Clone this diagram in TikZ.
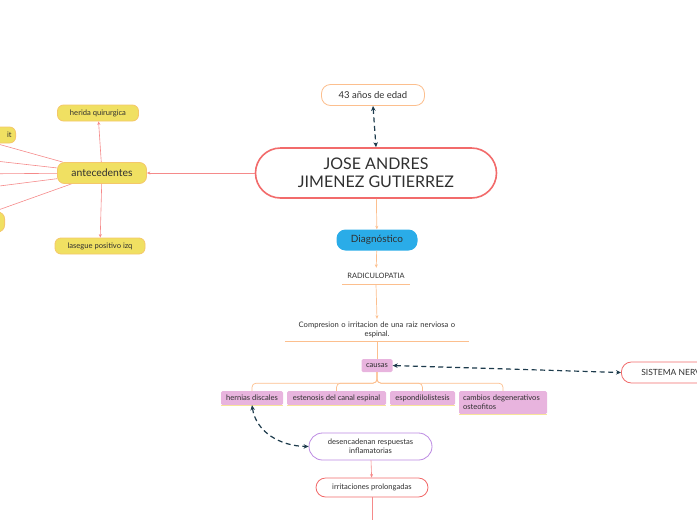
\documentclass[tikz,border=0pt]{standalone}
\usepackage{fontspec}
\setmainfont{Lato}
\usepackage{xcolor}
\usetikzlibrary{arrows.meta,backgrounds}
\definecolor{mapred}{HTML}{F26B6B}
\definecolor{linered}{HTML}{F58A8A}
\definecolor{peach}{HTML}{FCBF8E}
\definecolor{mapyellow}{HTML}{F0E062}
\definecolor{yellowline}{HTML}{F5C76A}
\definecolor{mapblue}{HTML}{2AACE8}
\definecolor{mappink}{HTML}{E8B4DE}
\definecolor{pinkline}{HTML}{F7E49A}
\definecolor{mappurple}{HTML}{BB88E2}
\definecolor{navy}{HTML}{1D3B4C}
\definecolor{textgray}{HTML}{303030}

\begin{document}
\begin{tikzpicture}[x=1pt,y=-1pt,
  every node/.style={text=textgray, inner sep=0pt},
  small/.style={font=\fontsize{7.6}{9}\selectfont},
  mainbox/.style={draw=mapred, line width=1.6pt, fill=white, rounded corners=25pt,
    align=center, font=\fontsize{16}{18.5}\selectfont},
  yellowbox/.style={draw=yellowline, fill=mapyellow, line width=0.8pt, rounded corners=7pt},
  pinkbox/.style={fill=mappink, rounded corners=1.5pt, small},
  outlinebox/.style={fill=white, line width=0.8pt, align=center},
  redline/.style={draw=linered, line width=0.6pt},
  redarrow/.style={redline, -{Stealth[length=3.5pt,width=3pt]}},
  orangeline/.style={draw=peach, line width=0.7pt},
  orangearrow/.style={orangeline, -{Stealth[length=3.5pt,width=3pt]}},
  navydash/.style={draw=navy, line width=1.2pt, dash pattern=on 5pt off 3.5pt,
    {Stealth[length=5pt,width=4.5pt]}-{Stealth[length=5pt,width=4.5pt]}}]
  \useasboundingbox (0,0) rectangle (697,520);
  \clip (0,0) rectangle (697,520);

  % central topic
  \node[mainbox, minimum width=241, minimum height=50] (jose) at (376,173) {JOSE ANDRES\\JIMENEZ GUTIERREZ};
  \node[outlinebox, draw=peach, rounded corners=9pt, minimum width=103, minimum height=21,
    font=\fontsize{9.5}{11}\selectfont] (edad) at (373,95) {43 años de edad};
  \draw[navydash] (edad.south) -- (jose.north);

  % antecedentes
  \node[yellowbox, minimum width=89, minimum height=21, font=\fontsize{10.4}{12}\selectfont] (ante) at (102,173) {antecedentes};
  \node[yellowbox, rounded corners=6pt, minimum width=81, minimum height=16, small] (herida) at (98,113) {herida quirurgica};
  \node[yellowbox, rounded corners=6pt, minimum width=90, minimum height=16, small] (lasegue) at (100,246) {lasegue positivo izq};
  \node[yellowbox, rounded corners=6pt, minimum height=16, text width=92, inner xsep=4pt,
    align=right, anchor=east, small] (trabajo) at (16,135) {it};
  \node[yellowbox, minimum width=80, minimum height=20, anchor=east] (otro) at (5,222) {};
  \coordinate (ant1) at (-40,157);
  \coordinate (ant2) at (-40,174);
  \coordinate (ant3) at (-40,191);
  \begin{pgfonlayer}{background}
    \foreach \t in {trabajo,ant1,ant2,ant3,otro}
      \draw[redline] (ante) -- (\t);
  \end{pgfonlayer}
  \draw[redarrow] (jose.west) -- (ante.east);
  \draw[redarrow] (ante) -- (herida);
  \draw[redarrow] (ante) -- (lasegue);

  % diagnostico
  \node[fill=mapblue, rounded corners=9pt, minimum width=81, minimum height=21,
    font=\fontsize{10}{12}\selectfont] (diag) at (377,240) {Diagnóstico};
  \node[minimum width=67, minimum height=16, font=\fontsize{7.4}{8.5}\selectfont] (radic) at (376,276) {RADICULOPATIA};
  \draw[orangeline] (radic.south west) -- (radic.south east);
  \node[text width=184, minimum height=22, align=center, small] (comp) at (377,330)
    {Compresion o irritacion de una raiz nerviosa o\\espinal.};
  \draw[orangeline] (comp.south west) -- (comp.south east);
  \draw[orangearrow] (jose) -- (diag);
  \draw[orangearrow] (diag) -- (radic);
  \draw[orangearrow] (radic.south) -- (comp.north);

  % causas
  \node[pinkbox, minimum width=31, minimum height=13] (causas) at (377,365.5) {causas};
  \draw[orangeline] (comp.south) -- (causas.north);
  \node[pinkbox, minimum width=62, minimum height=14] (hern) at (252,398) {hernias discales};
  \node[pinkbox, minimum width=99, minimum height=14] (esten) at (336.5,398) {estenosis del canal espinal};
  \node[pinkbox, minimum width=65, minimum height=14] (espon) at (422.5,398) {espondilolistesis};
  \node[pinkbox, minimum height=23, text width=80, inner xsep=4pt, align=left] (camb) at (503,402.5)
    {cambios degenerativos\\osteofitos};
  \foreach \n in {hern,esten,espon,camb} {
    \draw[draw=pinkline, line width=0.7pt] (\n.south west) -- (\n.south east);
    \draw[orangeline, rounded corners=4pt] (causas.south) -- ++(0,11) -| (\n.north);
  }
  \node[outlinebox, draw=mapred, rounded corners=10pt, minimum width=120, minimum height=21,
    anchor=west, font=\fontsize{8.5}{10}\selectfont] (sist) at (621,372.5) {SISTEMA NERVIOSO};
  \draw[navydash] (causas.east) -- (sist.west);

  % consecuencias
  \node[outlinebox, draw=mappurple, rounded corners=13.5pt, minimum width=123, minimum height=27, small]
    (desc) at (370.5,446.5) {desencadenan respuestas\\inflamatorias};
  \node[outlinebox, draw=mapred, rounded corners=9.5pt, minimum width=112, minimum height=19, small]
    (irrit) at (372,487.5) {irritaciones prolongadas};
  \coordinate (sigue) at (372,530);
  \draw[navydash] (hern.south) .. controls (256,432) and (280,446) .. (desc.west);
  \draw[redarrow] (desc) -- (irrit);
  \draw[redline] (irrit.south) -- (sigue);
\end{tikzpicture}
\end{document}
